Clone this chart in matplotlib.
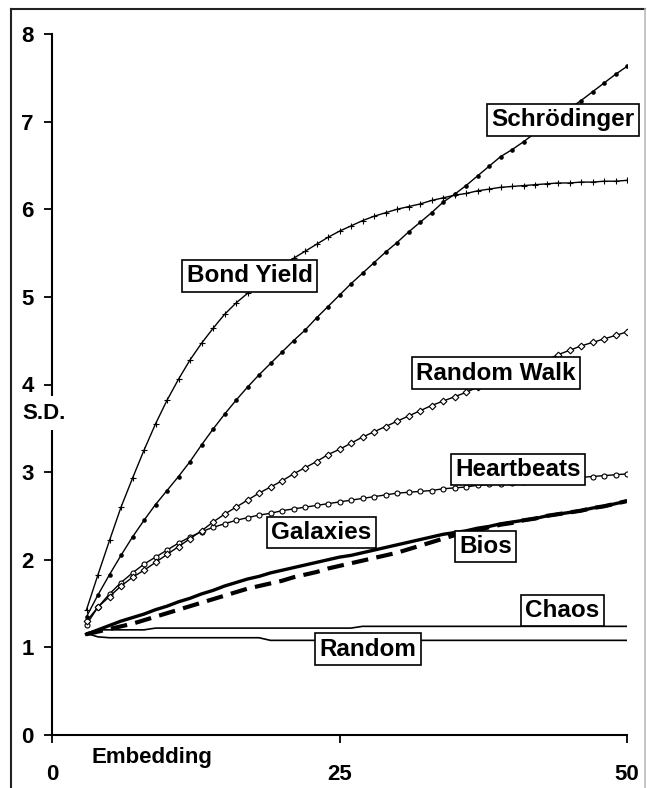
import matplotlib
matplotlib.use("Agg")
import matplotlib.pyplot as plt
from matplotlib.lines import Line2D
import numpy as np

plt.rcParams['font.family'] = ['Liberation Sans', 'DejaVu Sans']
plt.rcParams['font.weight'] = 'bold'

# embedding dimension 3..50
emb = list(range(3, 51))

schrodinger = [1.35, 1.60, 1.83, 2.05, 2.26, 2.45, 2.63, 2.79, 2.95, 3.12,
               3.31, 3.49, 3.66, 3.82, 3.97, 4.11, 4.24, 4.37, 4.50, 4.62,
               4.76, 4.89, 5.02, 5.15, 5.27, 5.39, 5.51, 5.62, 5.74, 5.85,
               5.96, 6.08, 6.17, 6.27, 6.38, 6.49, 6.60, 6.68, 6.77, 6.87,
               6.97, 7.06, 7.15, 7.24, 7.34, 7.44, 7.54, 7.63]
bond_yield = [1.43, 1.83, 2.22, 2.60, 2.93, 3.25, 3.55, 3.82, 4.06, 4.28,
              4.47, 4.64, 4.80, 4.93, 5.04, 5.16, 5.26, 5.35, 5.44, 5.52,
              5.60, 5.68, 5.75, 5.81, 5.87, 5.92, 5.96, 6.00, 6.03, 6.06,
              6.10, 6.13, 6.16, 6.18, 6.21, 6.23, 6.25, 6.26, 6.27, 6.28,
              6.29, 6.30, 6.30, 6.31, 6.31, 6.32, 6.32, 6.33]
random_walk = [1.30, 1.46, 1.58, 1.70, 1.80, 1.88, 1.97, 2.06, 2.15, 2.24,
               2.33, 2.43, 2.52, 2.60, 2.68, 2.76, 2.83, 2.90, 2.98, 3.05,
               3.12, 3.20, 3.26, 3.33, 3.40, 3.46, 3.52, 3.58, 3.64, 3.70,
               3.76, 3.81, 3.86, 3.91, 3.97, 4.02, 4.07, 4.12, 4.17, 4.22,
               4.28, 4.34, 4.39, 4.44, 4.48, 4.52, 4.56, 4.60]
heartbeats = [1.26, 1.46, 1.61, 1.74, 1.85, 1.95, 2.03, 2.11, 2.19, 2.26,
              2.32, 2.37, 2.41, 2.45, 2.48, 2.51, 2.53, 2.56, 2.58, 2.60,
              2.62, 2.64, 2.66, 2.68, 2.70, 2.72, 2.74, 2.76, 2.77, 2.78,
              2.79, 2.81, 2.82, 2.83, 2.85, 2.86, 2.87, 2.88, 2.89, 2.90,
              2.91, 2.92, 2.93, 2.94, 2.95, 2.96, 2.97, 2.98]
galaxies = [1.15, 1.20, 1.25, 1.30, 1.34, 1.38, 1.43, 1.47, 1.52, 1.56,
            1.61, 1.65, 1.70, 1.74, 1.78, 1.81, 1.85, 1.88, 1.91, 1.94,
            1.97, 2.00, 2.03, 2.05, 2.08, 2.11, 2.14, 2.17, 2.20, 2.23,
            2.26, 2.29, 2.31, 2.33, 2.36, 2.38, 2.41, 2.43, 2.45, 2.47,
            2.50, 2.52, 2.54, 2.56, 2.59, 2.61, 2.64, 2.67]
bios = [1.15, 1.18, 1.21, 1.24, 1.27, 1.31, 1.35, 1.39, 1.43, 1.47,
        1.51, 1.55, 1.59, 1.63, 1.67, 1.70, 1.73, 1.76, 1.80, 1.83,
        1.86, 1.90, 1.93, 1.96, 1.99, 2.02, 2.05, 2.08, 2.12, 2.16,
        2.20, 2.24, 2.28, 2.31, 2.34, 2.37, 2.40, 2.42, 2.45, 2.47,
        2.50, 2.52, 2.54, 2.56, 2.59, 2.61, 2.64, 2.67]
chaos = [1.16] + [1.20] * 5 + [1.22] * 18 + [1.24] * 24
rand = [1.16, 1.12] + [1.11] * 14 + [1.08] * 32

# label text, x, y
labels = [("Schrödinger", 44.4, 7.02), ("Bond Yield", 17.2, 5.24),
          ("Random Walk", 38.6, 4.13), ("Heartbeats", 40.5, 3.03),
          ("Galaxies", 23.4, 2.31), ("Bios", 37.7, 2.15),
          ("Chaos", 44.4, 1.42), ("Random", 27.5, 0.98)]

W, H = 647, 788
fig = plt.figure(figsize=(W / 100, H / 100), dpi=100)
ax = fig.add_axes([52 / W, (H - 735) / H, 575 / W, 701 / H])

ax.plot(emb, chaos, color='black', lw=1.2)
ax.plot(emb, rand, color='black', lw=1.2)
ax.plot(emb, galaxies, color='black', lw=2.4)
ax.plot(emb, bios, color='black', lw=3, dashes=(4, 2))
ax.plot(emb, heartbeats, color='black', lw=1, marker='o', ms=3.6,
        mfc='white', mec='black', mew=0.8)
ax.plot(emb, random_walk, color='black', lw=1, marker='D', ms=3.4,
        mfc='white', mec='black', mew=0.8)
ax.plot(emb, bond_yield, color='black', lw=1, marker='+', ms=4.5, mew=0.8)
ax.plot(emb, schrodinger, color='black', lw=1, marker='o', ms=2.3)

for txt, x, y in labels:
    ax.text(x, y, txt, ha='center', va='center', fontsize=17.5, fontweight='bold',
            zorder=5,
            bbox=dict(boxstyle='square,pad=0.18', fc='white', ec='black', lw=1.2))

ax.set_xlim(0, 50)
ax.set_ylim(0, 8)
ax.set_xticks([0, 25, 50])
ax.set_yticks(range(0, 9))
ax.spines['top'].set_visible(False)
ax.spines['right'].set_visible(False)
ax.spines['left'].set_linewidth(1.5)
ax.spines['bottom'].set_linewidth(1.5)
ax.tick_params(axis='y', length=6, width=1.3, labelsize=16, pad=7)
ax.tick_params(axis='x', length=6, width=1.3, labelsize=16, pad=15)
for lab in ax.get_xticklabels() + ax.get_yticklabels():
    lab.set_fontweight('bold')

# y label sits over the axis line on a white patch
fig.text(44 / W, 1 - 413 / H, "S.D.", ha='center', va='center',
         fontsize=16, fontweight='bold', zorder=10,
         bbox=dict(boxstyle='square,pad=0.3', fc='white', ec='none'))
fig.text(152 / W, 1 - 757 / H, "Embedding", ha='center', va='center',
         fontsize=16, fontweight='bold')

# outer frame
fig.add_artist(Line2D([11 / W, 11 / W], [0, 1 - 9 / H], color='#222', lw=1.5))
fig.add_artist(Line2D([11 / W, 645 / W], [1 - 9 / H, 1 - 9 / H], color='#222', lw=1.5))
fig.add_artist(Line2D([645 / W, 645 / W], [0, 1 - 9 / H], color='#bbb', lw=1.2))

fig.savefig("out.png", dpi=100)
